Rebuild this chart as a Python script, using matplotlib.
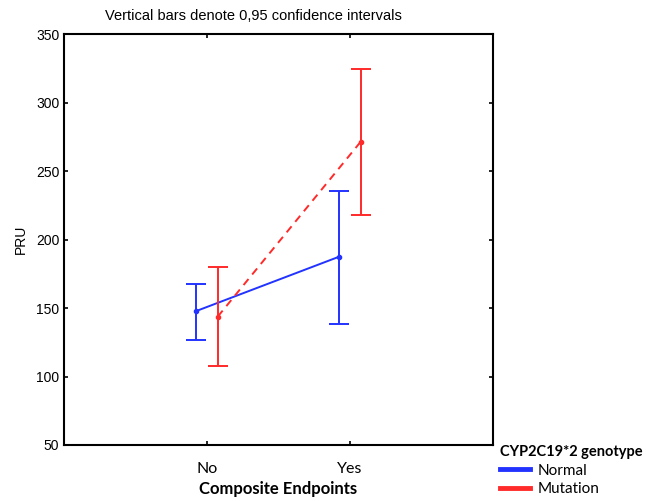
import numpy as np
import matplotlib.pyplot as plt
from matplotlib.lines import Line2D


categories = ['No', 'Yes']

normal_mean = [147.8, 187.5]
normal_low = [126.4, 138.3]
normal_high = [167.7, 235.6]

mutation_mean = [143.7, 271.4]
mutation_low = [107.9, 217.9]
mutation_high = [179.7, 324.5]

yticks = [50, 100, 150, 200, 250, 300, 350]

BLUE = '#2233ff'
RED = '#ff2a2a'


def main():
    plt.rcParams['font.family'] = ['Liberation Sans', 'DejaVu Sans']

    fig = plt.figure(figsize=(6.46, 5.01), dpi=100)
    ax = fig.add_axes([0.0991, 0.1118, 0.664, 0.8202])

    x = np.arange(len(categories))
    off = 0.075

    for xs, mean, lo, hi, col, ls in [
        (x - off, normal_mean, normal_low, normal_high, BLUE, '-'),
        (x + off, mutation_mean, mutation_low, mutation_high, RED, (0, (4, 3))),
    ]:
        mean = np.array(mean)
        yerr = [mean - np.array(lo), np.array(hi) - mean]
        ax.errorbar(xs, mean, yerr=yerr, fmt='none', ecolor=col,
                    elinewidth=1.4, capsize=7, capthick=1.4)
        ax.plot(xs, mean, color=col, linestyle=ls, lw=1.4,
                marker='o', markersize=3)

    ax.set_xlim(-1, 2)
    ax.set_ylim(50, 350)
    ax.set_xticks(x)
    ax.set_xticklabels(categories, family='Lato', fontsize=11.5)
    ax.set_yticks(yticks)
    ax.tick_params(axis='y', labelsize=10)
    ax.tick_params(direction='in', length=3, width=1.2, top=True, right=True,
                   color='black')
    ax.tick_params(axis='x', pad=12)
    for s in ax.spines.values():
        s.set_linewidth(1.5)

    ax.set_xlabel('Composite Endpoints', family='Lato', fontweight='bold',
                  fontsize=12, labelpad=4)
    ax.set_ylabel('PRU', fontsize=10, labelpad=6)

    fig.text(0.163, 0.968, 'Vertical bars denote 0,95 confidence intervals',
             fontsize=10.5, ha='left', va='center')

    handles = [Line2D([], [], color=BLUE, lw=3.5),
               Line2D([], [], color=RED, lw=3.5)]
    leg = fig.legend(handles, ['Normal', 'Mutation'],
                     title='CYP2C19*2 genotype',
                     loc='lower left', bbox_to_anchor=(0.752, -0.018),
                     frameon=False, handlelength=2.0, handletextpad=0.5,
                     labelspacing=0.3, alignment='left',
                     prop={'family': 'Lato', 'size': 11},
                     title_fontproperties={'family': 'Lato', 'weight': 'bold',
                                           'size': 10.5})

    fig.savefig('out.png', dpi=100)
    return


if __name__ == '__main__':
    main()
